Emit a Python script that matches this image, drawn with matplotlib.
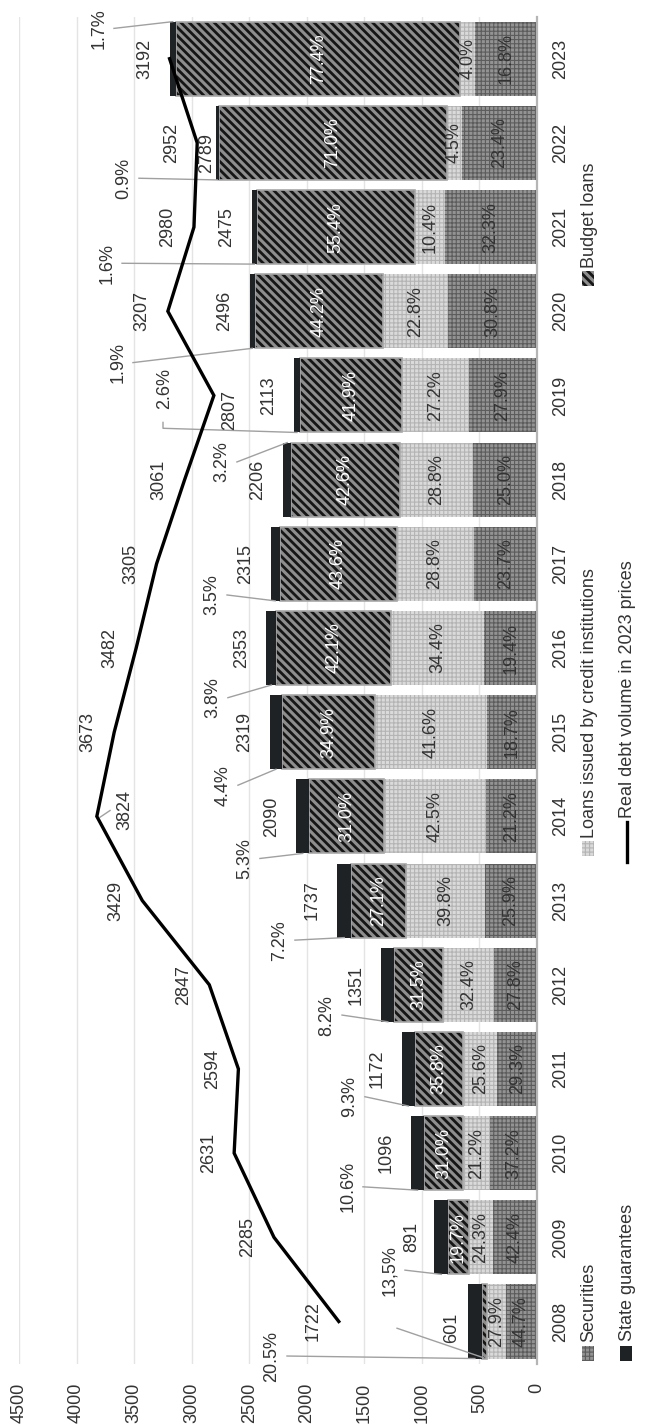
import matplotlib.pyplot as plt
from matplotlib.patches import Rectangle
from matplotlib.lines import Line2D

plt.rcParams['font.family'] = ['Liberation Sans', 'DejaVu Sans']
plt.rcParams['font.size'] = 13

# data
years = ['2008', '2009', '2010', '2011', '2012', '2013', '2014', '2015',
         '2016', '2017', '2018', '2019', '2020', '2021', '2022', '2023']
total_debt = [601, 891, 1096, 1172, 1351, 1737, 2090, 2319,
              2353, 2315, 2206, 2113, 2496, 2475, 2789, 3192]
real_debt = [1722, 2285, 2631, 2594, 2847, 3429, 3824, 3673,
             3482, 3305, 3061, 2807, 3207, 2980, 2952, 3192]
securities_pct = [44.7, 42.4, 37.2, 29.3, 27.8, 25.9, 21.2, 18.7,
                  19.4, 23.7, 25.0, 27.9, 30.8, 32.3, 23.4, 16.8]
credit_pct = [27.9, 24.3, 21.2, 25.6, 32.4, 39.8, 42.5, 41.6,
              34.4, 28.8, 28.8, 27.2, 22.8, 10.4, 4.5, 4.0]
budget_pct = [6.9, 19.7, 31.0, 35.8, 31.5, 27.1, 31.0, 34.9,
              42.1, 43.6, 42.6, 41.9, 44.2, 55.4, 71.0, 77.4]
guarantee_labels = ['20.5%', '13,5%', '10.6%', '9.3%', '8.2%', '7.2%', '5.3%', '4.4%',
                    '3.8%', '3.5%', '3.2%', '2.6%', '1.9%', '1.6%', '0.9%', '1.7%']
guarantee_pct = [float(s.strip('%').replace(',', '.')) for s in guarantee_labels]

# label placement (value units / category units)
guar_label_x = [2302, 1277, 1642, 1625, 1824, 2233, 2537, 2728,
                2815, 2823, 2737, 3232, 3640, 3735, 3588, 3805]
guar_label_dy = [-0.41, -0.39, -0.40, -0.33, -0.36, -0.47, -0.50, -0.63,
                 -0.59, -0.37, 0.21, 0.08, -0.61, -0.43, -0.42, 0.36]
guar_edge = [-1] * 10 + [1] + [-1] * 4 + [1]
total_off = {0: 140, 1: 195, 14: 78}
total_dy = {0: -0.08, 14: -0.12}
line_off = {6: -243, 11: -139}
line_dy = {6: 0.08, 11: -0.17}

W, H = 663, 1425
fig = plt.figure(figsize=(W / 100, H / 100), dpi=100)
ax = fig.add_axes([19 / W, 1 - 1363.6 / H, 518 / W, 1347 / H])

styles = [
    ('Securities', securities_pct, '#939393', '#5c5c5c', '++++', 0.8),
    ('Loans issued by credit institutions', credit_pct, '#dadada', '#b4b4b4', '++++', 0.8),
    ('Budget loans', budget_pct, '#8e8e8e', '#161616', '\\\\\\\\', 2.0),
    ('State guarantees', guarantee_pct, '#1e2225', '#1e2225', None, 1.0),
]

idx = list(range(len(years)))
bar_h = 0.88
left = [0.0] * len(years)
seg_vals = {}
for name, pct, face, edge, hatch, hlw in styles:
    vals = []
    for i in idx:
        s = securities_pct[i] + credit_pct[i] + budget_pct[i] + guarantee_pct[i]
        vals.append(total_debt[i] * pct[i] / s)
    plt.rcParams['hatch.linewidth'] = hlw
    bars = ax.barh(idx, vals, left=left, height=bar_h, color=face,
                   edgecolor=edge, linewidth=0, hatch=hatch, zorder=2)
    for p in bars:
        if hasattr(p, 'set_hatch_linewidth'):
            p.set_hatch_linewidth(hlw)
    if name == 'Budget loans':
        ax.barh(idx, vals, left=left, height=bar_h, fill=False,
                edgecolor='#a8a8a8', linewidth=1.2, zorder=2)
    seg_vals[name] = (list(left), vals)
    left = [l + v for l, v in zip(left, vals)]

# percentage labels inside the bars
for name, pct, *_ in styles[:3]:
    lefts, vals = seg_vals[name]
    col = 'white' if name == 'Budget loans' else '#333333'
    for i in idx:
        if name == 'Budget loans' and pct[i] < 10:
            continue
        ax.text(lefts[i] + vals[i] / 2, i, f'{pct[i]:.1f}%', rotation=90,
                ha='center', va='center', color=col, zorder=5)

# state guarantee labels with leader lines
lefts, vals = seg_vals['State guarantees']
lead_kw = dict(color='#a0a0a0', lw=1, clip_on=False, zorder=3)
for i in idx:
    lx, ly = guar_label_x[i], i + guar_label_dy[i]
    ax.text(lx, ly, guarantee_labels[i], rotation=90, ha='center', va='center',
            color='#333333', clip_on=False)
    ex, ey = lefts[i] + vals[i] / 2, i + guar_edge[i] * bar_h / 2
    if i == 11:
        ax.plot([3249, 3249, ex], [i - 0.32, i - 0.39, ey], **lead_kw)
    else:
        ax.plot([lx - 130, ex], [ly, ey], **lead_kw)
ax.plot([1216, lefts[0] - vals[0] * 0.1], [-0.08, -0.43], **lead_kw)

# totals at bar ends
for i in idx:
    ax.text(total_debt[i] + total_off.get(i, 217), i + total_dy.get(i, 0),
            str(total_debt[i]), rotation=90, ha='center', va='center',
            color='#333333')

# real debt line
ax.plot(real_debt, idx, color='black', lw=2.4, zorder=4, solid_joinstyle='miter')
for i in idx[:-1]:
    ax.text(real_debt[i] + line_off.get(i, 226), i + line_dy.get(i, 0),
            str(real_debt[i]), rotation=90, ha='center', va='center',
            color='#333333')
ax.plot([3796, 3709], [6 - 0.01, 6 + 0.07], **lead_kw)

# axes
ax.set_xlim(4500, 0)
ax.set_ylim(-0.5, len(years) - 0.5)
ax.set_xticks(range(0, 4501, 500))
ax.set_yticks(idx)
ax.set_yticklabels(years)
ax.yaxis.tick_right()
ax.tick_params(axis='x', length=0, pad=14, labelrotation=90, colors='#333333', labelsize=13)
ax.tick_params(axis='y', length=0, pad=11, colors='#333333', labelsize=13)
for t in ax.get_yticklabels():
    t.set_rotation(90)
    t.set_va('center')
ax.grid(axis='x', color='#e4e4e4', lw=1)
ax.set_axisbelow(True)
for s in ['top', 'left', 'bottom']:
    ax.spines[s].set_visible(False)
ax.spines['right'].set_color('#b5b5b5')
ax.spines['right'].set_linewidth(1.6)

# legend drawn rotated
def fx(px):
    return px / W


def fy(py):
    return 1 - py / H


legend_items = [
    (styles[0], 582, 1346, 1342),
    (styles[3], 620, 1346, 1341),
    (styles[1], 582, 841, 838),
    (styles[2], 582, 271, 268),
]
for (name, _, face, edge, hatch, hlw), x0, y0, ty in legend_items:
    plt.rcParams['hatch.linewidth'] = hlw
    r = Rectangle((fx(x0), fy(y0 + 15)), 12 / W, 15 / H, transform=fig.transFigure,
                  facecolor=face, edgecolor=edge, linewidth=0, hatch=hatch)
    if hasattr(r, 'set_hatch_linewidth'):
        r.set_hatch_linewidth(hlw)
    fig.add_artist(r)
    fig.text(fx(x0 + 7), fy(ty), name, rotation=90, ha='center', va='bottom',
             color='#333333')

fig.add_artist(Line2D([fx(627), fx(627)], [fy(862), fy(822)], color='black', lw=2.4,
                      transform=fig.transFigure))
fig.text(fx(628), fy(818), 'Real debt volume in 2023 prices', rotation=90,
         ha='center', va='bottom', color='#333333')

fig.savefig('out.png', dpi=100)
